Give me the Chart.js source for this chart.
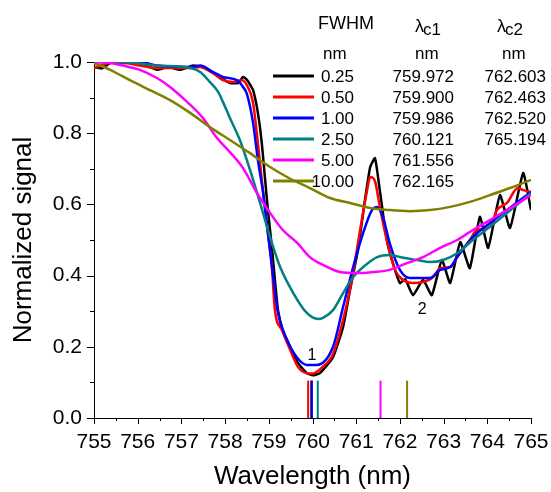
<!DOCTYPE html>
<html>
<head>
<meta charset="utf-8">
<script src="https://cdn.jsdelivr.net/npm/chart.js@4"></script>
<style>
html, body { margin: 0; padding: 0; background: #fff; }
</style>
</head>
<body>
<canvas id="chart" width="551" height="492"></canvas>
<script>
// Legend table values
const fwhmLabels = ['0.25', '0.50', '1.00', '2.50', '5.00', '10.00'];
const lambdaC1 = [759.972, 759.900, 759.986, 760.121, 761.556, 762.165];
const lambdaC2 = ['762.603', '762.463', '762.520', '765.194', '', ''];
const seriesColors = ['#000000', '#ff0000', '#0000ff', '#008080', '#ff00ff', '#808000'];

// FWHM 0.25 nm
const wl025 = [755.0, 755.18, 755.37, 755.7, 756.1, 756.44, 756.69, 756.97, 757.27, 757.49, 757.81, 758.11, 758.3, 758.41, 758.5, 758.64, 758.75, 758.84, 758.91, 758.98, 759.07, 759.14, 759.21, 759.32, 759.49, 759.67, 759.87, 760.01, 760.17, 760.47, 760.7, 760.86, 761.04, 761.2, 761.32, 761.43, 761.54, 761.7, 761.84, 762.0, 762.12, 762.3, 762.53, 762.73, 762.96, 763.15, 763.38, 763.6, 763.83, 764.02, 764.29, 764.52, 764.82, 765.0];
const sig025 = [0.986, 0.982, 0.997, 1.0, 0.995, 0.978, 0.986, 0.978, 0.99, 0.985, 0.963, 0.941, 0.941, 0.958, 0.95, 0.921, 0.857, 0.772, 0.677, 0.584, 0.48, 0.388, 0.303, 0.247, 0.199, 0.154, 0.126, 0.12, 0.126, 0.171, 0.256, 0.36, 0.472, 0.612, 0.705, 0.73, 0.64, 0.5, 0.435, 0.379, 0.39, 0.345, 0.388, 0.345, 0.444, 0.379, 0.494, 0.421, 0.565, 0.478, 0.626, 0.534, 0.688, 0.584];

// FWHM 0.50 nm
const wl050 = [755.0, 755.37, 755.66, 756.05, 756.44, 756.81, 757.2, 757.43, 757.72, 757.95, 758.18, 758.39, 758.52, 758.64, 758.75, 758.84, 758.96, 759.07, 759.14, 759.3, 759.49, 759.67, 759.87, 760.01, 760.2, 760.47, 760.7, 760.9, 761.09, 761.25, 761.32, 761.43, 761.54, 761.7, 761.89, 762.05, 762.16, 762.3, 762.53, 762.76, 762.92, 763.15, 763.31, 763.6, 763.76, 764.06, 764.22, 764.45, 764.7, 764.82, 765.0];
const sig050 = [0.983, 0.997, 0.997, 0.99, 0.983, 0.983, 0.983, 0.986, 0.969, 0.949, 0.944, 0.949, 0.93, 0.885, 0.772, 0.669, 0.537, 0.424, 0.303, 0.247, 0.191, 0.143, 0.126, 0.125, 0.14, 0.18, 0.275, 0.388, 0.528, 0.64, 0.677, 0.665, 0.593, 0.5, 0.416, 0.39, 0.382, 0.379, 0.382, 0.396, 0.421, 0.424, 0.452, 0.5, 0.528, 0.537, 0.584, 0.604, 0.646, 0.64, 0.635];

// FWHM 1.00 nm
const wl100 = [755.0, 756.05, 756.44, 757.2, 757.43, 757.72, 757.95, 758.27, 758.41, 758.5, 758.64, 758.75, 758.87, 758.98, 759.1, 759.21, 759.42, 759.65, 759.87, 760.1, 760.47, 760.7, 760.93, 761.16, 761.36, 761.48, 761.61, 761.77, 762.0, 762.23, 762.69, 762.92, 763.15, 763.31, 763.67, 764.06, 764.45, 765.0];
const sig100 = [1.0, 1.0, 0.99, 0.986, 0.99, 0.972, 0.958, 0.949, 0.93, 0.91, 0.829, 0.725, 0.632, 0.52, 0.396, 0.295, 0.219, 0.169, 0.149, 0.149, 0.2, 0.312, 0.424, 0.52, 0.584, 0.593, 0.565, 0.49, 0.416, 0.393, 0.393, 0.416, 0.424, 0.452, 0.508, 0.548, 0.584, 0.635];

// FWHM 2.50 nm
const wl250 = [755.0, 755.66, 756.44, 757.2, 757.43, 757.65, 757.84, 757.95, 758.11, 758.34, 758.57, 758.8, 759.03, 759.26, 759.56, 759.87, 760.13, 760.24, 760.47, 760.7, 760.93, 761.16, 761.48, 761.77, 762.0, 762.39, 762.69, 762.99, 763.31, 763.67, 764.06, 764.45, 765.0];
const sig250 = [1.0, 1.0, 0.99, 0.983, 0.972, 0.944, 0.916, 0.888, 0.843, 0.78, 0.697, 0.604, 0.508, 0.424, 0.351, 0.295, 0.278, 0.281, 0.303, 0.351, 0.396, 0.424, 0.452, 0.458, 0.452, 0.444, 0.438, 0.444, 0.463, 0.5, 0.537, 0.576, 0.632];

// FWHM 5.00 nm
const wl500 = [755.0, 755.37, 755.66, 756.05, 756.44, 756.74, 757.13, 757.49, 757.81, 758.11, 758.41, 758.73, 759.03, 759.32, 759.65, 759.94, 760.24, 760.63, 761.02, 761.38, 761.77, 762.16, 762.53, 762.92, 763.31, 763.67, 764.06, 764.45, 765.0];
const sig500 = [1.0, 0.997, 0.99, 0.978, 0.955, 0.93, 0.888, 0.843, 0.787, 0.747, 0.702, 0.632, 0.576, 0.528, 0.492, 0.452, 0.43, 0.41, 0.407, 0.41, 0.416, 0.435, 0.452, 0.478, 0.5, 0.528, 0.556, 0.584, 0.626];

// FWHM 10.00 nm
const wl1000 = [755.0, 755.37, 755.82, 756.28, 756.74, 757.2, 757.65, 758.11, 758.57, 759.03, 759.49, 759.94, 760.4, 760.86, 761.32, 761.77, 762.23, 762.69, 763.15, 763.6, 764.06, 764.52, 765.0];
const sig1000 = [0.997, 0.978, 0.949, 0.921, 0.893, 0.857, 0.817, 0.781, 0.744, 0.705, 0.672, 0.646, 0.618, 0.604, 0.59, 0.584, 0.581, 0.584, 0.593, 0.607, 0.626, 0.646, 0.669];

// curve labels "1" and "2" in data units
const peakLabels = ['1', '2'];
const peakLabelX = [759.99, 762.51];
const peakLabelY = [0.163, 0.292];

const MARKER_HEIGHT = 0.105;
const FONT = '"Liberation Sans", Arial, sans-serif';

const allWl = [wl025, wl050, wl100, wl250, wl500, wl1000];
const allSig = [sig025, sig050, sig100, sig250, sig500, sig1000];

const zip = (xs, ys) => xs.map((x, i) => ({ x: x, y: ys[i] }));

const datasets = [];

// short vertical markers at lambda_c1
lambdaC1.forEach((lc, i) => {
    datasets.push({
        label: 'marker ' + fwhmLabels[i],
        data: [{ x: lc, y: 0 }, { x: lc, y: MARKER_HEIGHT }],
        borderColor: seriesColors[i],
        borderWidth: 2,
        pointRadius: 0,
        order: 20 - i
    });
});

allWl.forEach((wl, i) => {
    datasets.push({
        label: fwhmLabels[i],
        data: zip(wl, allSig[i]),
        borderColor: seriesColors[i],
        borderWidth: 2.5,
        pointRadius: 0,
        tension: i === 0 ? 0.15 : 0,
        cubicInterpolationMode: i === 0 ? 'default' : 'monotone',
        order: 10 - i
    });
});

// outward ticks, major and minor
const tickMarks = {
    id: 'tickMarks',
    afterDraw(chart) {
        const { ctx, chartArea, scales: { x, y } } = chart;
        ctx.save();
        ctx.strokeStyle = '#000';
        ctx.lineWidth = 1;
        for (let k = 0; k <= 20; k++) {
            const v = x.min + k * 0.5;
            const px = Math.round(x.getPixelForValue(v)) + 0.5;
            const len = k % 2 === 0 ? 6 : 3;
            ctx.beginPath();
            ctx.moveTo(px, chartArea.bottom);
            ctx.lineTo(px, chartArea.bottom + len);
            ctx.stroke();
        }
        for (let k = 0; k <= 10; k++) {
            const v = y.min + k * 0.1;
            const py = Math.round(y.getPixelForValue(v)) + 0.5;
            const len = k % 2 === 0 ? 7 : 4;
            ctx.beginPath();
            ctx.moveTo(chartArea.left, py);
            ctx.lineTo(chartArea.left - len, py);
            ctx.stroke();
        }
        ctx.restore();
    }
};

// FWHM / lambda table and curve labels
const tablePlugin = {
    id: 'fwhmTable',
    afterDraw(chart) {
        const { ctx, scales: { x, y } } = chart;
        ctx.save();
        ctx.fillStyle = '#000';
        ctx.textBaseline = 'alphabetic';

        ctx.textAlign = 'left';
        ctx.font = '18px ' + FONT;
        ctx.fillText('FWHM', 318, 29);
        ctx.fillText('λ', 415, 32);
        ctx.fillText('λ', 497, 32);
        ctx.font = '17px ' + FONT;
        ctx.fillText('c1', 423, 35);
        ctx.fillText('c2', 505, 35);
        ctx.fillText('nm', 323, 59);
        ctx.fillText('nm', 415, 59);
        ctx.fillText('nm', 502, 59);

        fwhmLabels.forEach((lab, i) => {
            const base = 82 + i * 21;
            ctx.strokeStyle = seriesColors[i];
            ctx.lineWidth = 3;
            ctx.beginPath();
            ctx.moveTo(273, base - 6);
            ctx.lineTo(314, base - 6);
            ctx.stroke();
            ctx.textAlign = 'right';
            ctx.fillText(lab, 354, base);
            ctx.fillText(lambdaC1[i].toFixed(3), 454, base);
            if (lambdaC2[i]) ctx.fillText(lambdaC2[i], 546, base);
        });

        ctx.textAlign = 'center';
        ctx.font = '16px ' + FONT;
        peakLabels.forEach((t, i) => {
            ctx.fillText(t, x.getPixelForValue(peakLabelX[i]), y.getPixelForValue(peakLabelY[i]));
        });
        ctx.restore();
    }
};

new Chart(document.getElementById('chart').getContext('2d'), {
    type: 'line',
    data: { datasets: datasets },
    options: {
        responsive: false,
        animation: false,
        layout: { padding: { top: 62, right: 20, left: 0, bottom: 0 } },
        plugins: { legend: { display: false }, tooltip: { enabled: false } },
        scales: {
            x: {
                type: 'linear',
                min: 755,
                max: 765,
                afterFit: s => { s.height = 74; s.paddingLeft = 0; s.paddingRight = 0; },
                grid: { drawOnChartArea: false, drawTicks: false },
                border: { color: '#000', width: 1 },
                ticks: {
                    stepSize: 1,
                    color: '#000',
                    padding: 12,
                    font: { family: FONT, size: 21 },
                    callback: v => v.toFixed(0)
                },
                title: {
                    display: true,
                    text: 'Wavelength (nm)',
                    color: '#000',
                    font: { family: FONT, size: 26 },
                    padding: { top: 0, bottom: 0 }
                }
            },
            y: {
                min: 0,
                max: 1,
                afterFit: s => { s.width = 94; s.paddingTop = 0; s.paddingBottom = 0; },
                grid: { drawOnChartArea: false, drawTicks: false },
                border: { color: '#000', width: 1 },
                ticks: {
                    stepSize: 0.2,
                    color: '#000',
                    padding: 12,
                    font: { family: FONT, size: 21 },
                    callback: v => v.toFixed(1)
                },
                title: {
                    display: true,
                    text: 'Normalized signal',
                    color: '#000',
                    font: { family: FONT, size: 26 },
                    padding: { top: 8, bottom: 0 }
                }
            }
        }
    },
    plugins: [tickMarks, tablePlugin]
});
</script>
</body>
</html>
